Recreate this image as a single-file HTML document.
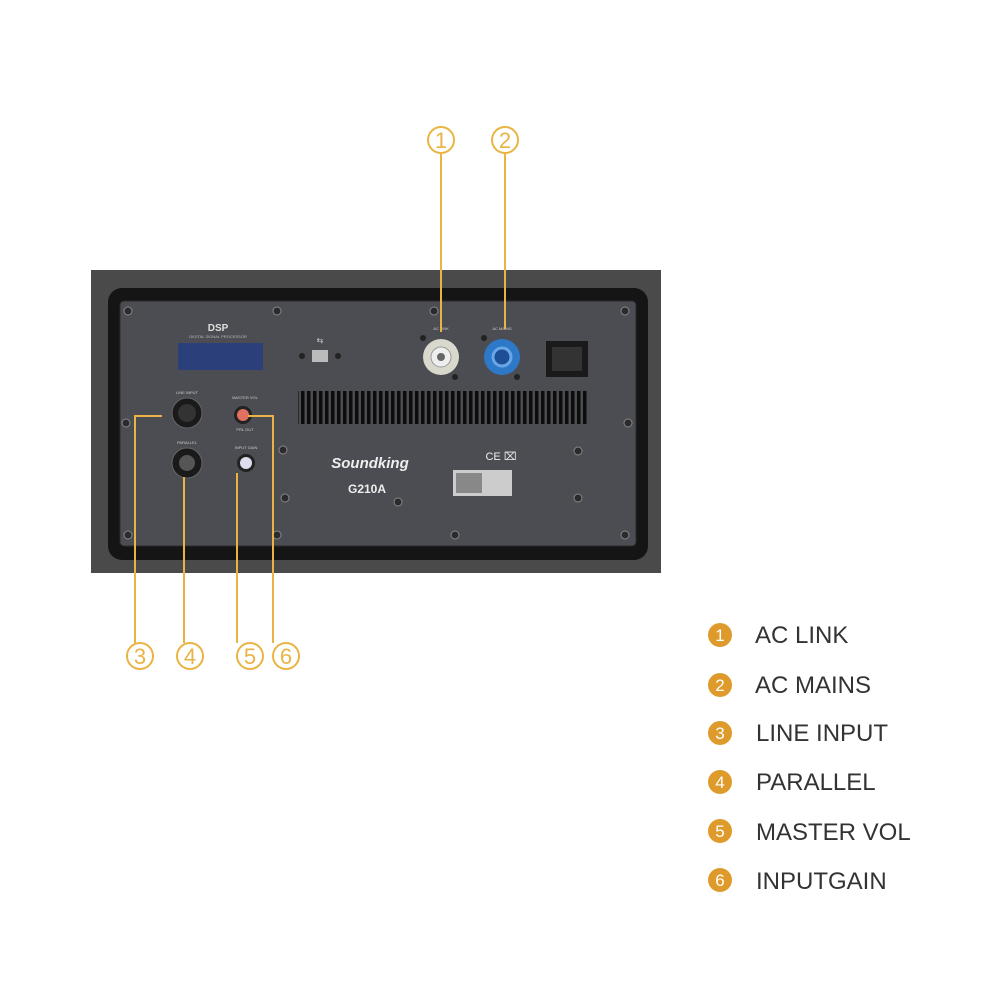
<!DOCTYPE html>
<html><head><meta charset="utf-8"><style>body{margin:0;background:#fff}svg{display:block}</style></head><body>
<svg width="1000" height="1000" viewBox="0 0 1000 1000" font-family="Liberation Sans, sans-serif">
<defs>
<pattern id="vent" width="6" height="34" patternUnits="userSpaceOnUse"><rect width="6" height="34" fill="#4a4c50"/><rect x="1" width="3.5" height="34" fill="#0c0c0d"/></pattern>
</defs>
<rect width="1000" height="1000" fill="#fff"/>
<rect x="91" y="270" width="570" height="303" fill="#4a4a4a"/>
<rect x="108" y="288" width="540" height="272" rx="14" fill="#151515"/>
<rect x="120" y="301" width="516" height="245" rx="4" fill="#4b4d52" stroke="#2a2a2c"/>
<g fill="#2b2b2d" stroke="#888" stroke-width="1">
<circle cx="128" cy="311" r="4"/><circle cx="277" cy="311" r="4"/><circle cx="434" cy="311" r="4"/><circle cx="625" cy="311" r="4"/>
<circle cx="126" cy="423" r="4"/><circle cx="628" cy="423" r="4"/>
<circle cx="283" cy="450" r="4"/><circle cx="285" cy="498" r="4"/><circle cx="398" cy="502" r="4"/><circle cx="578" cy="451" r="4"/><circle cx="578" cy="498" r="4"/>
<circle cx="128" cy="535" r="4"/><circle cx="277" cy="535" r="4"/><circle cx="455" cy="535" r="4"/><circle cx="625" cy="535" r="4"/>
</g>
<text x="218" y="331" fill="#ddd" font-size="10" font-weight="bold" text-anchor="middle">DSP</text>
<text x="218" y="338" fill="#bbb" font-size="4" text-anchor="middle">DIGITAL SIGNAL PROCESSOR</text>
<rect x="178" y="343" width="85" height="27" fill="#2b3f7a"/>
<rect x="312" y="350" width="16" height="12" fill="#bbb"/><circle cx="302" cy="356" r="3" fill="#222"/><circle cx="338" cy="356" r="3" fill="#222"/>
<text x="320" y="343" fill="#ccc" font-size="8" text-anchor="middle">⇆</text>
<circle cx="441" cy="357" r="18" fill="#d8d8cc"/><circle cx="441" cy="357" r="10" fill="#eee" stroke="#999"/><circle cx="441" cy="357" r="4" fill="#666"/>
<circle cx="502" cy="357" r="18" fill="#2e78c8"/><circle cx="502" cy="357" r="9" fill="#1c4f95" stroke="#6aa6e6" stroke-width="3"/>
<circle cx="423" cy="338" r="3" fill="#222"/><circle cx="455" cy="377" r="3" fill="#222"/><circle cx="484" cy="338" r="3" fill="#222"/><circle cx="517" cy="377" r="3" fill="#222"/>
<text x="441" y="330" fill="#ccc" font-size="4" text-anchor="middle">AC LINK</text>
<text x="502" y="330" fill="#ccc" font-size="4" text-anchor="middle">AC MAINS</text>
<rect x="546" y="341" width="42" height="36" fill="#1a1a1a"/><rect x="552" y="347" width="30" height="24" fill="#333"/>
<rect x="298" y="391" width="290" height="33" fill="url(#vent)"/>
<circle cx="187" cy="413" r="15" fill="#1a1a1a" stroke="#666"/><circle cx="187" cy="413" r="9" fill="#333"/>
<circle cx="187" cy="463" r="15" fill="#1a1a1a" stroke="#666"/><circle cx="187" cy="463" r="8" fill="#555"/>
<text x="187" y="394" fill="#ccc" font-size="4" text-anchor="middle">LINE INPUT</text>
<text x="187" y="444" fill="#ccc" font-size="4" text-anchor="middle">PARALLEL</text>
<circle cx="243" cy="415" r="9" fill="#222"/><circle cx="243" cy="415" r="6" fill="#e07060"/>
<circle cx="246" cy="463" r="9" fill="#222"/><circle cx="246" cy="463" r="6" fill="#dde"/>
<text x="245" y="399" fill="#ccc" font-size="4" text-anchor="middle">MASTER VOL</text>
<text x="245" y="431" fill="#ccc" font-size="4" text-anchor="middle">PRL OUT</text>
<text x="246" y="449" fill="#ccc" font-size="4" text-anchor="middle">INPUT GAIN</text>
<text x="370" y="468" fill="#eee" font-size="15" font-style="italic" font-weight="bold" text-anchor="middle">Soundking</text>
<text x="367" y="493" fill="#eee" font-size="12" font-weight="bold" text-anchor="middle">G210A</text>
<text x="501" y="460" fill="#eee" font-size="11" text-anchor="middle">CE ⌧</text>
<rect x="453" y="470" width="59" height="26" fill="#ccc"/><rect x="456" y="473" width="26" height="20" fill="#888"/>
<g stroke="#e9b443" stroke-width="2" fill="none">
<path d="M441 154V332M505 154V329"/>
<path d="M135 643V416H162M184 643V477M237 643V473M273 643V416H248"/>
<circle cx="441" cy="140" r="13"/><circle cx="505" cy="140" r="13"/>
<circle cx="140" cy="656" r="13"/><circle cx="190" cy="656" r="13"/><circle cx="250" cy="656" r="13"/><circle cx="286" cy="656" r="13"/>
</g>
<g fill="#e9b443" font-size="22" text-anchor="middle">
<text x="441" y="148">1</text><text x="505" y="148">2</text>
<text x="140" y="664">3</text><text x="190" y="664">4</text><text x="250" y="664">5</text><text x="286" y="664">6</text>
</g>
<g fill="#df9a2c"><circle cx="720" cy="635" r="12"/><circle cx="720" cy="685" r="12"/><circle cx="720" cy="733" r="12"/><circle cx="720" cy="782" r="12"/><circle cx="720" cy="831" r="12"/><circle cx="720" cy="880" r="12"/></g>
<g fill="#fff" font-size="17" text-anchor="middle">
<text x="720" y="641">1</text><text x="720" y="691">2</text><text x="720" y="739">3</text><text x="720" y="788">4</text><text x="720" y="837">5</text><text x="720" y="886">6</text>
</g>
<g fill="#333" font-size="24">
<text x="755" y="643">AC LINK</text><text x="755" y="693">AC MAINS</text><text x="756" y="741">LINE INPUT</text><text x="756" y="790">PARALLEL</text><text x="756" y="840">MASTER VOL</text><text x="756" y="889">INPUTGAIN</text>
</g>
</svg>
</body></html>
